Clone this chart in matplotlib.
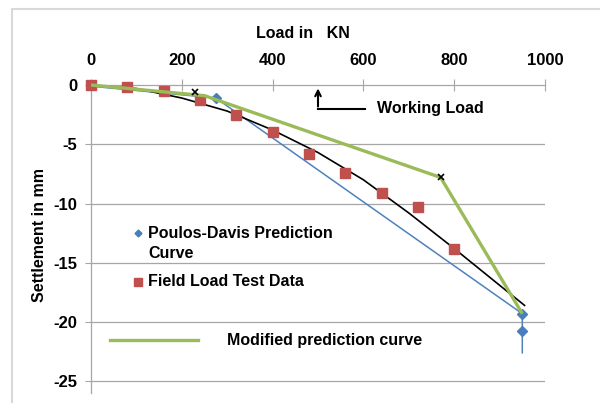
import matplotlib
matplotlib.use("Agg")
import matplotlib.pyplot as plt
from matplotlib.patches import Rectangle

plt.rcParams["font.family"] = ["Liberation Sans", "DejaVu Sans"]
plt.rcParams["font.weight"] = "bold"
plt.rcParams["axes.unicode_minus"] = False

# field load test data (red squares)
field_load = [0, 80, 160, 240, 320, 400, 480, 560, 640, 720, 800]
field_settle = [0, -0.15, -0.5, -1.3, -2.5, -4.0, -5.8, -7.4, -9.1, -10.3, -13.8]

# Poulos-Davis prediction curve (blue)
pd_load = [0, 275, 950, 950, 950]
pd_settle = [-0.1, -1.1, -19.3, -20.8, -22.6]

# trend line through field data (black)
trend_load = [0, 100, 200, 300, 400, 500, 600, 700, 800, 900, 955]
trend_settle = [0, -0.3, -1.1, -2.2, -3.8, -5.7, -8.0, -10.8, -13.8, -16.9, -18.6]

# modified prediction curve (green) and its break points
mod_load = [0, 250, 770, 950]
mod_settle = [0, -0.9, -7.8, -19.3]
break_load = [230, 770]
break_settle = [-0.6, -7.8]

working_load = 500

W, H = 600, 403
fig = plt.figure(figsize=(6, 4.03), dpi=100)
fig.patches.append(Rectangle((12 / W, -0.1), 1.2, 1 - 9 / H + 0.1, transform=fig.transFigure,
                             fill=False, edgecolor="#D9D9D9", lw=1.5))

ax = fig.add_axes([91 / W, 1 - 85 / H - 26 * 11.85 / H, 454 / W, 26 * 11.85 / H])
ax.set_xlim(0, 1000)
ax.set_ylim(-26, 0)

grid_c = "#A6A6A6"
ax.xaxis.tick_top()
ax.set_xticks([0, 200, 400, 600, 800, 1000])
ax.set_yticks([0, -5, -10, -15, -20, -25])
for y in [-5, -10, -15, -20, -25]:
    ax.axhline(y, color=grid_c, lw=0.9, zorder=0)
for s in ["bottom", "right"]:
    ax.spines[s].set_visible(False)
for s in ["top", "left"]:
    ax.spines[s].set_color(grid_c)
    ax.spines[s].set_linewidth(0.9)
ax.tick_params(axis="x", direction="inout", length=8, color=grid_c, pad=8, labelsize=12)
ax.tick_params(axis="y", direction="out", length=4, color=grid_c, pad=6, labelsize=12)

ax.plot(pd_load, pd_settle, color="#4F81BD", lw=1.1, marker="D", markersize=5,
        markevery=[1, 2, 3], markerfacecolor="#4A7EBB", markeredgecolor="#4A7EBB", zorder=2)
ax.plot(trend_load, trend_settle, color="black", lw=1.2, zorder=3)
ax.plot(field_load, field_settle, "s", color="#C0504D", markersize=7, zorder=4, clip_on=False)
ax.plot(mod_load, mod_settle, color="#9BBB59", lw=2.4, zorder=5, solid_capstyle="butt",
        clip_on=False)
ax.plot(break_load, break_settle, "x", color="black", markersize=5, mew=1.2, zorder=6)

# working load marker
ax.annotate("", xy=(working_load, -0.05), xytext=(working_load, -2.05),
            arrowprops=dict(arrowstyle="->", color="black", lw=1.5), zorder=6)
ax.plot([working_load, 603], [-2.0, -2.0], color="black", lw=1.5, zorder=6)
ax.text(630, -1.95, "Working Load", fontsize=11.5, va="center", ha="left")

# titles
fig.text(303 / W, 1 - 33 / H, "Load in   KN", fontsize=11.5, ha="center", va="center")
fig.text(40 / W, 1 - 235 / H, "Settlement in mm", fontsize=11.5, ha="center", va="center",
         rotation=90)

# legend drawn by hand
def fx(px):
    return px / W

def fy(py):
    return 1 - py / H

fig.lines.append(plt.Line2D([fx(138)], [fy(233)], marker="D", markersize=3.5, color="#4A7EBB",
                            transform=fig.transFigure))
fig.text(fx(148), fy(233), "Poulos-Davis Prediction", fontsize=11.5, va="center")
fig.text(fx(148), fy(254), "Curve", fontsize=11.5, va="center")
fig.lines.append(plt.Line2D([fx(138)], [fy(282)], marker="s", markersize=6, color="#C0504D",
                            transform=fig.transFigure))
fig.text(fx(148), fy(282), "Field Load Test Data", fontsize=11.5, va="center")
fig.lines.append(plt.Line2D([fx(110), fx(198)], [fy(340), fy(340)], color="#9BBB59", lw=2.4,
                            transform=fig.transFigure))
fig.text(fx(227), fy(340), "Modified prediction curve", fontsize=11.5, va="center")

fig.savefig("out.png", dpi=100, facecolor="white")
